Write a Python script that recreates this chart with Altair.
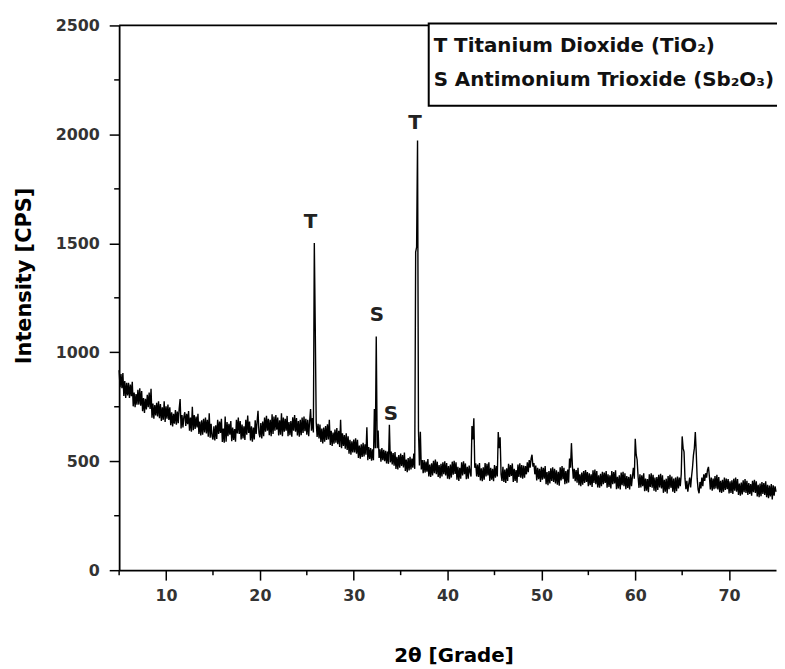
import altair as alt
import pandas as pd

# ---------------- data ----------------
STEP = 0.1  # scan step, degrees 2-theta, starting at 5.0

cps_05_10 = [918, 840, 900, 835, 905, 800, 868, 790, 860, 802,
             860, 790, 852, 798, 865, 752, 815, 748, 808, 760,
             828, 760, 835, 755, 822, 730, 790, 722, 786, 738,
             805, 748, 815, 740, 832, 700, 765, 695, 758, 710,
             768, 705, 775, 698, 762, 685, 748, 690, 775, 680]
cps_10_15 = [752, 695, 760, 690, 748, 665, 725, 660, 718, 672,
             735, 668, 728, 675, 742, 785, 650, 712, 655, 705,
             725, 662, 718, 670, 730, 640, 700, 635, 750, 642,
             712, 648, 705, 655, 718, 625, 682, 618, 688, 622,
             695, 632, 700, 628, 690, 612, 720, 608, 672, 615]
cps_15_20 = [600, 660, 595, 665, 602, 690, 625, 682, 630, 695,
             588, 650, 585, 705, 590, 680, 615, 672, 622, 685,
             592, 655, 598, 648, 590, 690, 628, 700, 625, 685,
             600, 668, 605, 660, 598, 690, 622, 710, 630, 682,
             595, 660, 590, 655, 600, 688, 625, 680, 732, 630]
cps_20_25 = [610, 675, 605, 682, 615, 700, 635, 708, 640, 695,
             620, 690, 615, 715, 625, 705, 640, 712, 645, 700,
             618, 688, 622, 720, 615, 700, 635, 695, 640, 708,
             615, 680, 620, 685, 612, 702, 640, 712, 635, 698,
             618, 685, 612, 690, 620, 700, 630, 705, 638, 695]
cps_25_30 = [622, 690, 615, 682, 740, 640, 698, 632, 1502, 1114,
             680, 612, 672, 605, 668, 588, 650, 582, 655, 590,
             662, 598, 670, 600, 690, 575, 640, 570, 632, 580,
             645, 585, 652, 578, 640, 565, 690, 560, 628, 570,
             620, 558, 628, 552, 615, 535, 598, 530, 592, 540]
cps_30_35 = [600, 540, 605, 535, 598, 515, 572, 512, 578, 520,
             585, 522, 578, 530, 656, 505, 565, 510, 560, 502,
             555, 505, 740, 560, 1073, 560, 641, 515, 555, 498,
             560, 505, 552, 500, 548, 490, 545, 488, 667, 495,
             545, 485, 538, 480, 542, 465, 520, 462, 528, 470]
cps_35_40 = [535, 478, 528, 472, 540, 455, 508, 450, 515, 458,
             520, 462, 512, 470, 535, 465, 1460, 1483, 1972, 640,
             480, 635, 462, 505, 445, 505, 448, 498, 452, 510,
             430, 485, 428, 490, 435, 502, 445, 508, 440, 498,
             428, 482, 422, 488, 430, 495, 440, 500, 435, 492]
cps_40_45 = [420, 478, 418, 485, 425, 498, 438, 502, 442, 495,
             415, 475, 410, 470, 420, 495, 435, 500, 440, 490,
             418, 475, 420, 480, 450, 430, 662, 600, 697, 470,
             490, 430, 485, 428, 492, 412, 468, 408, 472, 415,
             492, 430, 488, 435, 495, 410, 470, 415, 465, 408]
cps_45_50 = [482, 425, 478, 430, 634, 560, 610, 440, 410, 475,
             405, 462, 400, 468, 410, 488, 428, 482, 432, 490,
             405, 465, 410, 460, 402, 485, 428, 490, 425, 482,
             420, 480, 425, 478, 440, 495, 450, 505, 470, 512,
             530, 475, 492, 440, 480, 412, 470, 418, 465, 405]
cps_50_55 = [475, 415, 470, 420, 478, 395, 450, 390, 455, 398,
             468, 410, 472, 405, 465, 398, 458, 392, 452, 388,
             472, 412, 478, 418, 470, 395, 455, 398, 462, 402,
             512, 470, 583, 480, 420, 465, 408, 460, 402, 470,
             390, 440, 385, 448, 392, 455, 400, 460, 405, 450]
cps_55_60 = [385, 445, 390, 440, 382, 458, 400, 462, 395, 455,
             380, 435, 378, 442, 385, 452, 395, 448, 400, 455,
             378, 440, 382, 435, 375, 455, 395, 450, 398, 458,
             372, 428, 375, 435, 370, 448, 390, 452, 385, 445,
             372, 432, 378, 428, 370, 440, 385, 430, 470, 420]
cps_60_65 = [603, 530, 507, 430, 378, 440, 380, 435, 385, 445,
             362, 420, 365, 418, 358, 440, 382, 445, 378, 438,
             365, 425, 360, 428, 368, 438, 380, 442, 375, 435,
             355, 415, 360, 420, 352, 432, 372, 438, 378, 430,
             360, 420, 355, 425, 362, 430, 375, 425, 385, 440]
cps_65_70 = [614, 560, 543, 420, 372, 410, 360, 395, 425, 380,
             430, 470, 527, 560, 634, 540, 420, 370, 353, 405,
             375, 425, 385, 440, 410, 445, 425, 460, 474, 430,
             370, 425, 365, 420, 372, 432, 375, 438, 370, 428,
             358, 410, 355, 415, 360, 425, 368, 420, 372, 418]
cps_70_75 = [352, 408, 355, 412, 350, 420, 365, 425, 360, 418,
             345, 398, 342, 402, 348, 412, 358, 418, 355, 410,
             345, 400, 350, 395, 342, 410, 358, 415, 355, 408,
             338, 392, 335, 398, 340, 405, 350, 400, 345, 408,
             335, 392, 330, 388, 338, 395, 325, 390, 342, 385,
             360]

segments = [cps_05_10, cps_10_15, cps_15_20, cps_20_25, cps_25_30,
            cps_30_35, cps_35_40, cps_40_45, cps_45_50, cps_50_55,
            cps_55_60, cps_60_65, cps_65_70, cps_70_75]
intensity = [v for seg in segments for v in seg]
two_theta = [round(5.0 + STEP * i, 2) for i in range(len(intensity))]

x_major = [10, 20, 30, 40, 50, 60, 70]
x_minor = [5, 15, 25, 35, 45, 55, 65]
y_major = [0, 500, 1000, 1500, 2000, 2500]
y_minor = [250, 750, 1250, 1750, 2250]

peak_labels = ["T", "S", "S", "T"]
peak_x = [25.4, 32.47, 33.95, 36.52]
peak_y = [1597, 1172, 717, 2052]

legend_lines = ["T Titanium Dioxide (TiO\u2082)", "S Antimonium Trioxide (Sb\u2082O\u2083)"]

# ---------------- chart ----------------
W, H = 662, 549
FONT = "DejaVu Sans"

df = pd.DataFrame({"two_theta": two_theta, "cps": intensity})
xscale = alt.Scale(domain=[5, 75], nice=False, zero=False)
yscale = alt.Scale(domain=[0, 2500], nice=False, zero=False)

x_axis = alt.Axis(
    values=x_major, format="d", grid=False, tickSize=10, tickWidth=1.5, tickColor="black",
    domainColor="black", domainWidth=1.8, labelOverlap=False, labelFlush=False,
    labelFont=FONT, labelFontSize=16, labelFontWeight="bold", labelColor="#333",
    labelPadding=8,
    title="2\u03b8 [Grade]", titleFont=FONT, titleFontSize=20, titleFontWeight="bold",
    titleColor="black", titleX=337, titleY=92, titleBaseline="alphabetic",
    titleAlign="center")
y_axis = alt.Axis(
    values=y_major, format="d", grid=False, tickSize=10, tickWidth=1.5, tickColor="black",
    domainColor="black", domainWidth=1.8, labelOverlap=False, labelFlush=False,
    labelFont=FONT, labelFontSize=16, labelFontWeight="bold", labelColor="#333",
    labelPadding=10,
    title="Intensity [CPS]", titleFont=FONT, titleFontSize=21, titleFontWeight="bold",
    titleColor="black", titleX=-89, titleY=252, titleAngle=270,
    titleBaseline="alphabetic", titleAlign="center")

line = alt.Chart(df).mark_line(color="black", strokeWidth=1.4).encode(
    x=alt.X("two_theta:Q", scale=xscale, axis=x_axis),
    y=alt.Y("cps:Q", scale=yscale, axis=y_axis),
)

xminor = alt.Chart(pd.DataFrame({"t": x_minor})).mark_rule(color="black", strokeWidth=1.5).encode(
    x=alt.X("t:Q", scale=xscale, axis=x_axis), y=alt.value(H), y2=alt.value(H + 5))
yminor = alt.Chart(pd.DataFrame({"t": y_minor})).mark_rule(color="black", strokeWidth=1.5).encode(
    y=alt.Y("t:Q", scale=yscale, axis=y_axis), x=alt.value(-5), x2=alt.value(0))

one = pd.DataFrame({"a": [0]})
top_frame = alt.Chart(one).mark_rule(color="black", strokeWidth=1.8).encode(
    x=alt.value(0), x2=alt.value(W), y=alt.value(0))

legend_box = alt.Chart(one).mark_rect(fill="white", stroke="black", strokeWidth=2).encode(
    x=alt.value(312), x2=alt.value(W + 3), y=alt.value(-2), y2=alt.value(81))

leg1 = alt.Chart(pd.DataFrame({"txt": [legend_lines[0]]})).mark_text(
    align="left", baseline="alphabetic", font=FONT, fontSize=20, fontWeight="bold", color="#111"
).encode(x=alt.value(317), y=alt.value(27), text="txt:N")
leg2 = alt.Chart(pd.DataFrame({"txt": [legend_lines[1]]})).mark_text(
    align="left", baseline="alphabetic", font=FONT, fontSize=20, fontWeight="bold", color="#111"
).encode(x=alt.value(317), y=alt.value(61), text="txt:N")

peaks = alt.Chart(pd.DataFrame({"lab": peak_labels, "px": peak_x, "py": peak_y})).mark_text(
    align="center", baseline="middle", font=FONT, fontSize=20, fontWeight="bold", color="#222"
).encode(
    x=alt.X("px:Q", scale=xscale, axis=x_axis),
    y=alt.Y("py:Q", scale=yscale, axis=y_axis),
    text="lab:N")

chart = alt.layer(line, xminor, yminor, top_frame, legend_box, leg1, leg2, peaks).properties(
    width=W, height=H,
    autosize=alt.AutoSizeParams(type="none"),
    padding={"left": 112, "top": 15, "right": 1, "bottom": 96},
    background="white",
).configure_view(stroke=None)

chart.save("out.html", embed_options={"renderer": "svg", "actions": False})
